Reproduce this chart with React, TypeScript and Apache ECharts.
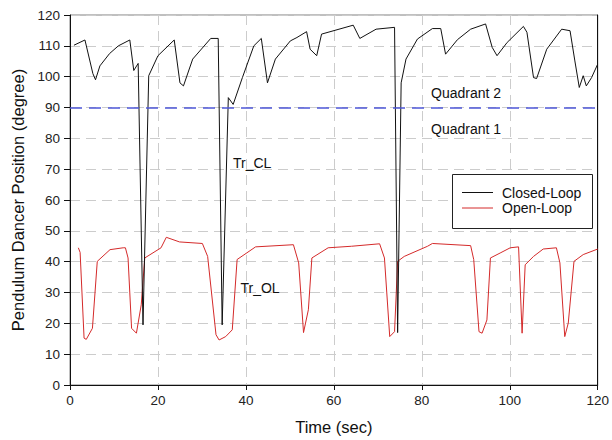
import React, { useEffect, useRef } from "react";
import * as echarts from "echarts";

const closedLoop: [number, number][] = [
  [0.9, 110.2], [3.4, 111.9], [5.2, 101], [5.8, 99], [6.8, 103.5], [9, 107.5], [11, 110],
  [13.6, 111.9], [14.5, 102], [15.5, 104.3], [16.6, 19.5], [17.9, 100.3], [20, 106.8],
  [23.7, 111.9], [25, 98], [25.8, 97], [27.9, 105.7], [32, 112.4], [33.7, 112.4],
  [34.6, 19.5], [36, 93.2], [37.1, 91], [39.2, 99.7], [41.8, 110], [43.5, 112.4],
  [44.9, 98], [46.7, 105.7], [50.1, 111.6], [51.6, 112.7], [53.8, 114.6], [54.6, 108.9],
  [56.1, 106.8], [57.2, 113.8], [64.4, 116.7], [65.9, 112.4], [69.6, 115.4], [73.8, 116],
  [74.5, 17], [75.3, 98], [76.4, 105.7], [79, 112.2], [82.4, 115.6], [84.3, 115.6],
  [85.4, 107.3], [88.1, 112], [91.1, 115.4], [94.5, 117.1], [96, 109.5], [97.1, 106.8],
  [99.4, 111.1], [103.1, 116.3], [103.9, 114.4], [105.4, 99.7], [106.1, 99.4],
  [108.4, 108.9], [111.8, 115.4], [113.7, 114.9], [114.8, 105.1], [115.8, 96.5],
  [116.7, 100.3], [117.4, 97], [118.6, 99.7], [120, 104.1],
];

const openLoop: [number, number][] = [
  [1.9, 44.5], [2.3, 43], [3.2, 15.2], [3.7, 14.8], [5.1, 18.4], [6.2, 40.1], [9.1, 43.9],
  [12.1, 44.5], [12.6, 44.5], [13.2, 41.2], [14, 18.4], [15.1, 16.8], [16.2, 26],
  [17, 41.2], [20.7, 44.5], [21.9, 47.9], [24.9, 46.4], [30.1, 45.9], [31.3, 41.7],
  [33.2, 16.3], [33.9, 14.6], [35.4, 15.7], [36.9, 17.9], [38, 40.7], [42.2, 44.8],
  [50.8, 45.5], [52, 39.6], [53.1, 17], [54.2, 24.4], [55, 41.2], [58.7, 44.5],
  [64, 45], [70.4, 45.8], [71.5, 41.2], [72.7, 15.7], [73.8, 17.3], [74.5, 40.1],
  [76, 41.7], [81.3, 45], [82.4, 45.9], [91.1, 45.2], [91.8, 40.7], [93, 17.3],
  [93.7, 16.8], [94.8, 21.1], [95.6, 41.2], [97.8, 42.8], [100.1, 44.5], [102, 44.8],
  [102.8, 16.8], [103.5, 39], [105.4, 41.7], [107.6, 44.1], [110.6, 44.5], [111.4, 39.6],
  [112.5, 15.7], [113.3, 20.1], [114.6, 40.1], [116.7, 42.3], [120, 44.1],
];

const quadrantBoundary = 90;
const xTicks = { min: 0, max: 120, interval: 20 };
const yTicks = { min: 0, max: 120, interval: 10 };
const seriesNames = ["Closed-Loop", "Open-Loop"];
const seriesColors = ["#111111", "#d42a2a"];
const annotations = [
  { text: "Quadrant 2", x: 431, y: 92.5 },
  { text: "Quadrant 1", x: 431, y: 129 },
  { text: "Tr_CL", x: 233, y: 162.5 },
  { text: "Tr_OL", x: 240.5, y: 288 },
];

const FONT = "'Liberation Sans', Arial, sans-serif";

export default function App() {
  const ref = useRef<HTMLDivElement>(null);
  useEffect(() => {
    if (!ref.current) return;
    const chart = echarts.init(ref.current, undefined, { renderer: "svg" });
    const grid = { left: 70, right: 12, top: 15, bottom: 54 };
    const splitLine = {
      show: true,
      lineStyle: { color: "#cccccc", type: [10, 6] as any, width: 1 },
    };
    const legendBox = { x: 452, y: 174, w: 140, h: 54 };
    const legendRows = [192.5, 208];
    const legendGraphics: any[] = [
      {
        type: "rect",
        z: 20,
        shape: { x: legendBox.x + 0.5, y: legendBox.y + 0.5, width: legendBox.w, height: legendBox.h },
        style: { fill: "#ffffff", stroke: "#222222", lineWidth: 1 },
      },
    ];
    seriesNames.forEach((name, i) => {
      legendGraphics.push({
        type: "line",
        z: 21,
        shape: { x1: 462, y1: legendRows[i], x2: 493, y2: legendRows[i] },
        style: { stroke: seriesColors[i], lineWidth: 1 },
      });
      legendGraphics.push({
        type: "text",
        z: 21,
        style: {
          x: 502,
          y: legendRows[i],
          text: name,
          font: `14px ${FONT}`,
          fill: "#111",
          verticalAlign: "middle",
        },
      });
    });
    chart.setOption({
      animation: false,
      backgroundColor: "#ffffff",
      textStyle: { fontFamily: FONT },
      grid: { ...grid, show: true, borderColor: "#808080", borderWidth: 1 },
      xAxis: {
        type: "value",
        min: xTicks.min,
        max: xTicks.max,
        interval: xTicks.interval,
        name: "Time (sec)",
        nameLocation: "middle",
        nameGap: 33,
        nameTextStyle: { fontSize: 16.5, color: "#111", fontFamily: FONT },
        axisLine: { show: true, onZero: false, lineStyle: { color: "#111", width: 1 } },
        axisTick: { show: true, inside: false, length: 5, lineStyle: { color: "#111" } },
        axisLabel: { fontSize: 13.5, color: "#222", margin: 8, fontFamily: FONT },
        splitLine,
      },
      yAxis: [
        {
          type: "value",
          min: yTicks.min,
          max: yTicks.max,
          interval: yTicks.interval,
          name: "Pendulum Dancer Position (degree)",
          nameLocation: "middle",
          nameGap: 44,
          nameTextStyle: { fontSize: 16.5, color: "#111", fontFamily: FONT },
          axisLine: { show: true, onZero: false, lineStyle: { color: "#111", width: 1 } },
          axisTick: { show: true, inside: false, length: 6, lineStyle: { color: "#111" } },
          axisLabel: { fontSize: 13.5, color: "#222", margin: 10, fontFamily: FONT },
          splitLine,
        },
        {
          type: "value",
          min: yTicks.min,
          max: yTicks.max,
          interval: yTicks.interval,
          position: "right",
          axisLine: { show: true, onZero: false, lineStyle: { color: "#111", width: 1 } },
          axisTick: { show: false },
          axisLabel: { show: false },
          splitLine: { show: false },
        },
      ],
      series: [
        {
          name: seriesNames[0],
          type: "line",
          data: closedLoop,
          symbol: "none",
          lineStyle: { color: seriesColors[0], width: 1 },
          itemStyle: { color: seriesColors[0] },
          z: 3,
          markLine: {
            silent: true,
            symbol: "none",
            label: { show: false },
            lineStyle: { color: "#4d57d8", width: 1.5, type: [12, 7] as any },
            data: [{ yAxis: quadrantBoundary }],
          },
        },
        {
          name: seriesNames[1],
          type: "line",
          data: openLoop,
          symbol: "none",
          lineStyle: { color: seriesColors[1], width: 1 },
          itemStyle: { color: seriesColors[1] },
          z: 2,
        },
      ],
      graphic: [
        ...annotations.map((a) => ({
          type: "text",
          z: 10,
          style: {
            x: a.x,
            y: a.y,
            text: a.text,
            font: `14px ${FONT}`,
            fill: "#111",
            verticalAlign: "middle",
          },
        })),
        ...legendGraphics,
      ],
    });
    return () => chart.dispose();
  }, []);
  return <div ref={ref} style={{ width: 612, height: 440, position: "absolute", left: 0, top: 0 }} />;
}
